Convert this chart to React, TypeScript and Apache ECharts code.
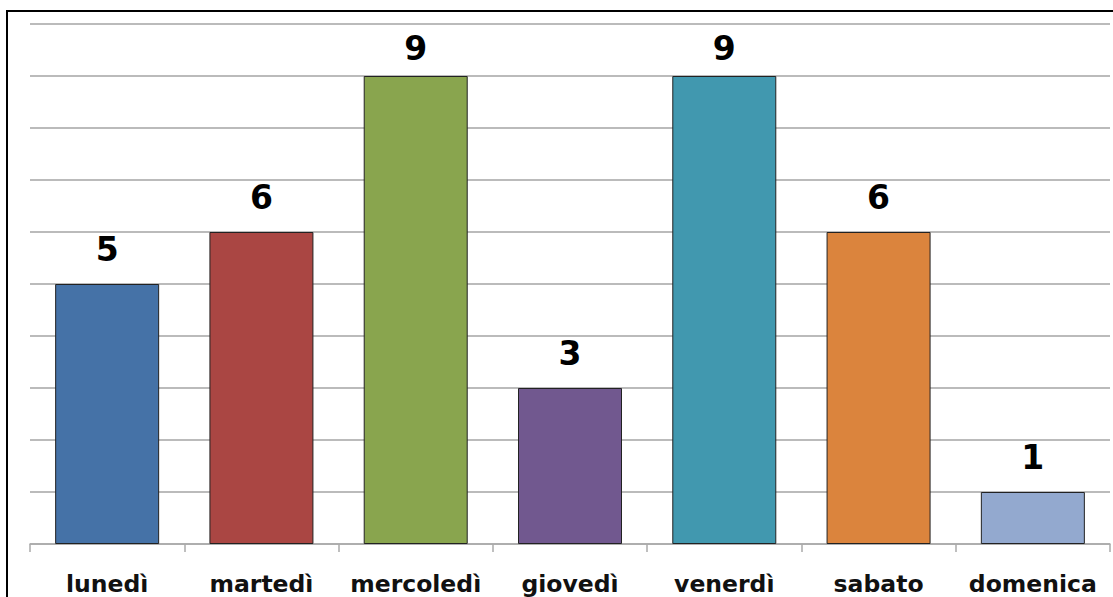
import React, { useEffect, useRef } from "react";
import * as echarts from "echarts";

const categories = ["lunedì", "martedì", "mercoledì", "giovedì", "venerdì", "sabato", "domenica"];
const values = [5, 6, 9, 3, 9, 6, 1];
const colors = ["#4572A7", "#AA4643", "#89A54E", "#71588F", "#4198AF", "#DB843D", "#93A9CF"];

export default function App() {
  const ref = useRef<HTMLDivElement>(null);
  useEffect(() => {
    const chart = echarts.init(ref.current!, null, { renderer: "svg" });
    chart.setOption({
      animation: false,
      backgroundColor: "#fff",
      graphic: [
        {
          type: "rect",
          shape: { x: 7, y: 11, width: 1200, height: 700 },
          style: { fill: "none", stroke: "#000", lineWidth: 2 },
          z: 10,
        },
      ],
      grid: { left: 30, right: 3, top: 24, bottom: 53, containLabel: false },
      xAxis: {
        type: "category",
        data: categories,
        axisLine: { show: true, lineStyle: { color: "#aaa", width: 1.5 } },
        axisTick: { show: true, interval: 0, length: 8, lineStyle: { color: "#aaa", width: 1.5 } },
        axisLabel: {
          interval: 0,
          hideOverlap: false,
          color: "#111",
          fontFamily: "DejaVu Sans",
          fontWeight: "bold",
          fontSize: 23.5,
          margin: 28,
        },
      },
      yAxis: {
        type: "value",
        min: 0,
        max: 10,
        interval: 1,
        axisLine: { show: false },
        axisTick: { show: false },
        axisLabel: { show: false },
        splitLine: { lineStyle: { color: "#bbb", width: 2 } },
      },
      series: [
        {
          type: "bar",
          barWidth: 104,
          data: values.map((v, i) => ({
            value: v,
            itemStyle: { color: colors[i], borderColor: "#222", borderWidth: 1 },
            label: { distance: v >= 9 ? 11 : 18 },
          })),
          label: {
            show: true,
            position: "top",
            distance: 18,
            color: "#000",
            fontFamily: "DejaVu Sans",
            fontWeight: "bold",
            fontSize: 33,
          },
        },
      ],
    });
    return () => chart.dispose();
  }, []);
  return (
    <div
      ref={ref}
      style={{ position: "absolute", left: 0, top: 0, width: 1113, height: 597 }}
    />
  );
}
